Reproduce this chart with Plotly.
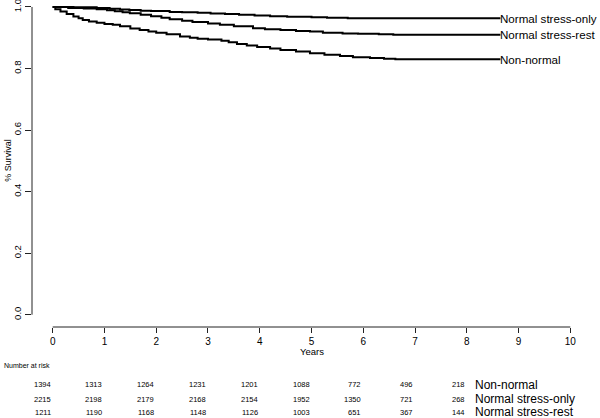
import plotly.graph_objects as go

# Kaplan-Meier curves
nn_t = [0, 0.05, 0.15, 0.27, 0.4, 0.5, 0.58, 0.7, 0.85, 1.0, 1.16, 1.3, 1.5, 1.68, 1.85, 2.0, 2.2, 2.46, 2.65, 2.8, 3.0,
        3.26, 3.4, 3.56, 3.75, 3.95, 4.2, 4.4, 4.7, 4.97, 5.25, 5.55, 5.8, 6.13, 6.4, 6.62, 8.65]
nn_s = [1.0, 0.993, 0.985, 0.977, 0.969, 0.963, 0.958, 0.953, 0.949, 0.945, 0.942, 0.937, 0.930, 0.925, 0.920, 0.916, 0.911,
        0.904, 0.900, 0.897, 0.894, 0.890, 0.885, 0.880, 0.875, 0.870, 0.865, 0.860, 0.855, 0.850, 0.845, 0.841, 0.837,
        0.834, 0.832, 0.830, 0.830]

sr_t = [0, 0.3, 0.6, 0.85, 1.05, 1.2, 1.35, 1.49, 1.7, 1.9, 2.1, 2.26, 2.5, 2.7, 3.0, 3.23, 3.5, 3.87, 4.1, 4.4, 4.7,
        4.97, 5.22, 5.6, 5.9, 6.3, 6.58, 8.65]
sr_s = [1.0, 0.997, 0.995, 0.993, 0.989, 0.986, 0.983, 0.980, 0.975, 0.970, 0.965, 0.960, 0.955, 0.951, 0.946, 0.942,
        0.937, 0.931, 0.928, 0.925, 0.922, 0.920, 0.916, 0.914, 0.913, 0.911, 0.910, 0.910]

so_t = [0, 0.4, 0.85, 1.1, 1.3, 1.48, 1.7, 1.9, 2.26, 2.5, 2.8, 3.05, 3.33, 3.6, 3.9, 4.2, 4.53, 5.0, 5.3, 5.7, 8.65]
so_s = [1.0, 0.999, 0.997, 0.994, 0.992, 0.990, 0.988, 0.987, 0.984, 0.983, 0.981, 0.979, 0.977, 0.975, 0.972, 0.970,
        0.968, 0.967, 0.965, 0.963, 0.963]

groups = ["Non-normal", "Normal stress-only", "Normal stress-rest"]
risk_times = [0, 1, 2, 3, 4, 5, 6, 7, 8]
risk_nn = [1394, 1313, 1264, 1231, 1201, 1088, 772, 496, 218]
risk_so = [2215, 2198, 2179, 2168, 2154, 1952, 1350, 721, 268]
risk_sr = [1211, 1190, 1168, 1148, 1126, 1003, 651, 367, 144]

x_ticks = list(range(0, 11))
y_ticks = [0.0, 0.2, 0.4, 0.6, 0.8, 1.0]
y_ticktext = ["0.0", "0.2", "0.4", "0.6", "0.8", "1.0"]

FONT = "Liberation Sans, Arial, sans-serif"

fig = go.Figure()
curves = [("Normal stress-only", so_t, so_s), ("Normal stress-rest", sr_t, sr_s), ("Non-normal", nn_t, nn_s)]
for name, t, s in curves:
    fig.add_trace(go.Scatter(x=t, y=s, mode="lines", line=dict(color="black", width=2, shape="hv"),
                             name=name, showlegend=False, hoverinfo="skip"))

annotations = []
for name, t, s in curves:
    annotations.append(dict(x=t[-1], y=s[-1], xref="x", yref="y", text=name, showarrow=False,
                            xanchor="left", yanchor="middle", xshift=-2,
                            font=dict(family=FONT, size=11.6, color="black")))

annotations.append(dict(x=0, xref="paper", y=0.5, yref="y", text="% Survival", showarrow=False,
                        textangle=-90, xanchor="center", yanchor="middle", xshift=-24,
                        font=dict(family=FONT, size=9, color="black")))
annotations.append(dict(x=5, xref="x", y=0, yref="paper", text="Years", showarrow=False,
                        xanchor="center", yanchor="middle", yshift=-24.5,
                        font=dict(family=FONT, size=9.5, color="black")))
annotations.append(dict(x=0, xref="paper", y=0, yref="paper", text="Number at risk", showarrow=False,
                        xanchor="left", yanchor="middle", xshift=-30, yshift=-38.5,
                        font=dict(family=FONT, size=7, color="black")))

rows = [(risk_nn, groups[0], -57.7), (risk_so, groups[1], -72), (risk_sr, groups[2], -85.4)]
for vals, label, ys in rows:
    for t, v in zip(risk_times, vals):
        annotations.append(dict(x=t, xref="x", y=0, yref="paper", text=str(v), showarrow=False,
                                xanchor="right", yanchor="middle", yshift=ys,
                                font=dict(family=FONT, size=7.5, color="black")))
    annotations.append(dict(x=8, xref="x", y=0, yref="paper", text=label, showarrow=False,
                            xanchor="left", yanchor="middle", xshift=6.5, yshift=ys,
                            font=dict(family=FONT, size=12, color="black")))

shapes = [
    dict(type="line", xref="x", yref="paper", x0=0, x1=10, y0=0, y1=0, line=dict(color="#222", width=1)),
    dict(type="line", xref="paper", yref="y", x0=0, x1=0, y0=0, y1=1, line=dict(color="#222", width=1)),
]

fig.update_layout(
    width=600, height=418,
    margin=dict(l=32.3, r=9.3, t=0, b=90.7, autoexpand=False),
    paper_bgcolor="white", plot_bgcolor="white",
    showlegend=False,
    annotations=annotations, shapes=shapes,
    xaxis=dict(range=[-0.4, 10.4], tickvals=x_ticks, ticks="outside", ticklen=5, tickcolor="#222",
               showgrid=False, zeroline=False, showline=False,
               tickfont=dict(family=FONT, size=10, color="black")),
    yaxis=dict(range=[-0.04, 1.0227], tickvals=y_ticks, ticktext=y_ticktext, tickangle=-90,
               ticks="outside", ticklen=6, tickcolor="#222",
               showgrid=False, zeroline=False, showline=False, ticklabeloverflow="allow",
               tickfont=dict(family=FONT, size=9.5, color="black")),
)

fig.write_html("out.html", config={"displayModeBar": False},
               post_script="document.body.style.margin='0';document.body.style.overflow='hidden';")
